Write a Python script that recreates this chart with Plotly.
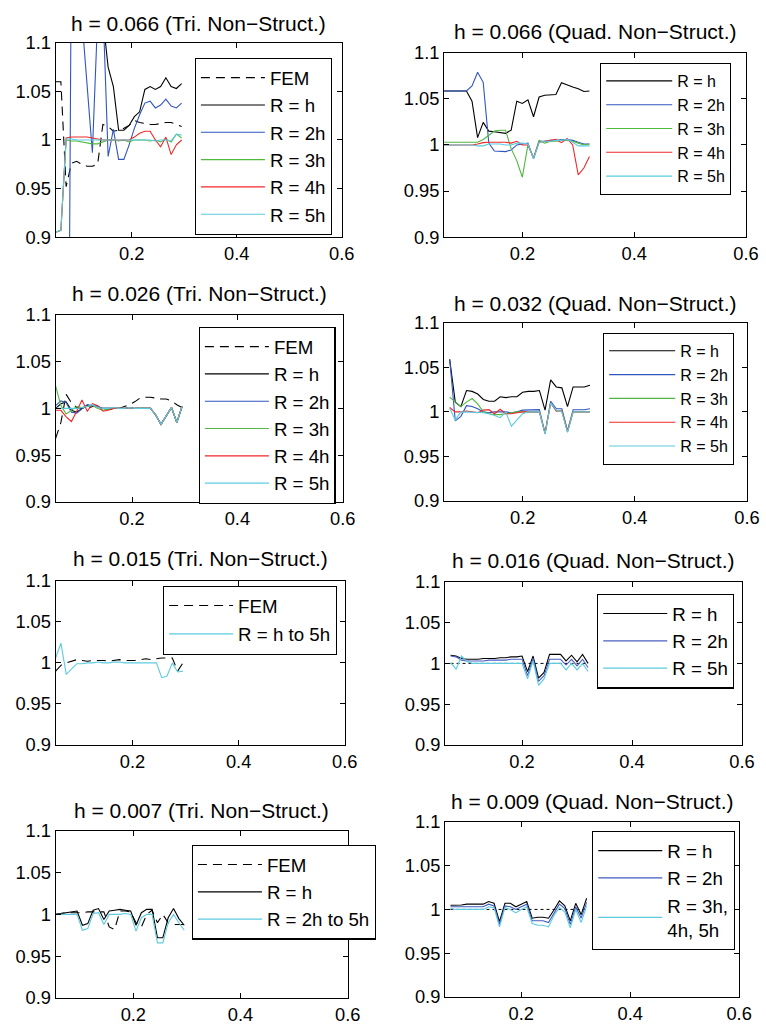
import plotly.graph_objects as go

# ---------------- data ----------------
X_TRI = [0.055, 0.065, 0.075, 0.085, 0.095, 0.105, 0.115, 0.125, 0.135, 0.145, 0.155, 0.165, 0.175,
         0.185, 0.195, 0.205, 0.215, 0.225, 0.235, 0.245, 0.255, 0.265, 0.275, 0.285, 0.295]
X_QUAD = [0.06, 0.07, 0.08, 0.09, 0.10, 0.11, 0.12, 0.13, 0.14, 0.15, 0.16, 0.17, 0.18, 0.19,
          0.20, 0.21, 0.22, 0.23, 0.24, 0.25, 0.26, 0.27, 0.28, 0.29, 0.30, 0.31, 0.32]
X_QUAD_B = [0.07, 0.08, 0.09, 0.10, 0.11, 0.12, 0.13, 0.14, 0.15, 0.16, 0.17, 0.18, 0.19,
            0.20, 0.21, 0.22, 0.23, 0.24, 0.25, 0.26, 0.27, 0.28, 0.29, 0.30, 0.31, 0.32]
REF_X = [0.07, 0.32]
REF_Y = [1.0, 1.0]

# Panel 1: h = 0.066 (Tri)
P1_FEM = [1.060, 1.060, 0.952, 0.976, 0.978, 0.975, 0.973, 0.973, 0.975, 1.016, 1.014, 1.009, 1.010,
          1.012, 1.015, 1.020, 1.018, 1.017, 1.016, 1.016, 1.017, 1.018, 1.018, 1.016, 1.014]
P1_RH = [1.2, 1.2, 1.2, 1.2, 1.2, 1.2, 1.2, 1.2, 1.15, 1.125, 1.075, 1.055, 1.010,
         1.010, 1.015, 1.024, 1.029, 1.052, 1.055, 1.052, 1.055, 1.064, 1.055, 1.053, 1.058]
P1_R2 = [0.3, 0.3, 0.3, 1.2, 1.3, 1.125, 1.056, 0.987, 1.126, 1.139, 0.983, 1.011, 0.980,
         0.980, 0.995, 1.012, 1.026, 1.038, 1.040, 1.033, 1.036, 1.042, 1.035, 1.033, 1.038]
P1_R3 = [0.905, 0.907, 1.000, 0.999, 0.999, 0.998, 0.997, 0.996, 0.996, 0.998, 1.000, 1.000, 0.999,
         1.000, 0.998, 1.000, 1.000, 1.000, 0.999, 1.000, 0.998, 1.001, 0.998, 1.006, 1.002]
P1_R4 = [0.905, 0.907, 1.002, 1.003, 1.003, 1.003, 1.003, 1.002, 1.001, 1.000, 1.000, 1.000, 1.000,
         1.000, 1.000, 1.003, 1.007, 1.009, 1.009, 1.000, 0.993, 1.003, 0.985, 0.995, 1.000]
P1_R5 = [0.905, 0.907, 1.001, 1.001, 1.000, 1.000, 1.000, 1.000, 1.000, 1.000, 1.000, 1.000, 1.000,
         1.000, 1.000, 1.000, 1.000, 1.000, 1.000, 0.999, 1.000, 1.000, 0.999, 1.006, 1.005]

# Panel 2: h = 0.066 (Quad)
P2_RH = [1.0586, 1.0586, 1.0586, 1.0586, 1.0586, 1.0475, 1.008, 1.0245, 1.015, 1.0144, 1.0137, 1.0126, 1.016,
         1.0475, 1.045, 1.049, 1.0306, 1.052, 1.054, 1.054, 1.0547, 1.0676, 1.065, 1.063, 1.061, 1.058, 1.0586]
P2_R2 = [1.0586, 1.0586, 1.0586, 1.0586, 1.0586, 1.064, 1.079, 1.068, 1.002, 0.9935, 0.9928, 0.9928, 0.9946,
         1.000, 1.001, 1.002, 0.985, 1.004, 1.004, 1.005, 1.005, 1.006, 1.006, 1.005, 1.003, 1.001, 1.001]
P2_R3 = [1.003, 1.003, 1.003, 1.003, 1.003, 1.003, 1.003, 1.006, 1.011, 1.015, 1.016, 1.016, 0.996,
         0.983, 0.965, 1.000, 0.986, 1.005, 1.002, 1.004, 1.004, 1.005, 1.005, 1.004, 1.002, 1.000, 1.001]
P2_R4 = [1.000, 1.000, 1.000, 1.000, 1.000, 1.000, 1.001, 1.0025, 1.003, 1.003, 1.003, 1.003, 1.002,
         1.004, 1.000, 1.000, 0.986, 1.003, 1.004, 1.005, 1.006, 1.0025, 1.007, 1.000, 0.9676, 0.975, 0.9874]
P2_R5 = [1.000, 1.000, 1.000, 1.000, 1.000, 1.000, 0.999, 0.999, 1.001, 1.001, 1.001, 1.000, 1.000,
         1.002, 1.002, 1.001, 0.985, 1.003, 1.004, 1.004, 1.005, 1.005, 1.006, 1.003, 0.999, 0.999, 0.999]

# Panel 3: h = 0.026 (Tri)
P3_FEM = [0.968, 0.985, 1.015, 1.006, 1.001, 1.000, 1.000, 1.002, 1.003, 1.000, 0.999, 0.999, 1.000,
          1.002, 1.004, 1.007, 1.011, 1.012, 1.012, 1.011, 1.010, 1.010, 1.008, 1.004, 1.001]
P3_RH = [1.000, 1.005, 1.007, 0.998, 0.996, 1.000, 1.003, 1.003, 1.002, 1.000, 1.000, 1.000, 1.000,
         1.000, 1.001, 1.000, 1.000, 1.000, 1.000, 0.993, 0.983, 0.992, 1.001, 0.985, 1.002]
P3_R2 = [1.003, 1.008, 1.006, 0.996, 0.995, 1.000, 1.004, 1.003, 1.002, 1.000, 1.000, 1.000, 1.000,
         1.000, 1.001, 1.000, 1.000, 1.000, 1.000, 0.993, 0.983, 0.992, 1.001, 0.985, 1.002]
P3_R3 = [1.024, 1.003, 0.994, 0.998, 1.002, 1.001, 1.002, 1.003, 1.000, 0.998, 0.999, 1.000, 1.000,
         1.000, 1.001, 1.000, 1.000, 1.000, 1.000, 0.993, 0.983, 0.992, 1.001, 0.985, 1.002]
P3_R4 = [0.998, 0.998, 0.991, 0.986, 0.997, 1.009, 0.997, 1.005, 1.003, 0.997, 0.998, 1.000, 1.000,
         1.000, 1.001, 1.000, 1.000, 1.000, 1.000, 0.993, 0.983, 0.992, 1.001, 0.985, 1.002]
P3_R5 = [1.000, 1.000, 1.000, 1.000, 1.000, 1.001, 1.002, 1.004, 1.001, 1.000, 1.000, 1.001, 1.000,
         1.000, 1.001, 1.000, 1.000, 1.000, 1.000, 0.993, 0.983, 0.992, 1.001, 0.985, 1.002]

# Panel 4: h = 0.032 (Quad)
P4_RH = [1.059, 1.011, 1.006, 1.024, 1.023, 1.020, 1.014, 1.012, 1.012, 1.017, 1.016, 1.017, 1.017,
         1.022, 1.023, 1.023, 1.024, 1.002, 1.036, 1.028, 1.027, 1.006, 1.028, 1.028, 1.028, 1.030]
P4_R2 = [1.059, 0.990, 0.995, 1.007, 1.006, 1.0035, 1.000, 0.999, 1.000, 1.000, 1.000, 0.999, 1.000,
         1.002, 1.002, 1.0025, 1.0025, 0.976, 1.012, 1.0035, 1.0035, 0.979, 1.0025, 1.0025, 1.0025, 1.0035]
P4_R3 = [1.0166, 1.011, 1.006, 1.011, 1.015, 1.009, 1.000, 0.998, 0.997, 0.997, 0.998, 0.999, 1.000,
         1.000, 1.000, 1.000, 1.000, 0.976, 1.010, 1.001, 1.001, 0.978, 1.000, 1.000, 1.000, 1.000]
P4_R4 = [1.005, 1.000, 1.000, 1.001, 1.000, 0.999, 1.002, 1.0025, 0.998, 1.003, 0.998, 0.998, 0.999,
         1.000, 1.000, 1.000, 1.000, 0.976, 1.010, 1.001, 1.001, 0.978, 1.000, 1.000, 1.000, 1.000]
P4_R5 = [1.004, 0.991, 1.000, 1.000, 1.000, 0.9995, 0.999, 0.998, 0.996, 0.9935, 1.000, 0.984, 0.991,
         0.998, 1.000, 1.000, 1.000, 0.975, 1.010, 1.002, 1.000, 0.977, 1.000, 1.000, 1.000, 1.000]

# Panel 5: h = 0.015 (Tri)
P5_FEM = [0.990, 0.997, 1.000, 1.002, 1.004, 1.003, 1.002, 1.003, 1.003, 1.003, 1.002, 1.003, 1.004,
          1.003, 1.003, 1.003, 1.004, 1.005, 1.004, 1.005, 1.006, 1.006, 1.006, 0.990, 1.000]
P5_R = [1.006, 1.024, 0.986, 0.993, 0.999, 0.999, 1.000, 1.000, 1.001, 1.000, 1.000, 1.001, 1.001,
        1.000, 1.000, 1.000, 1.000, 1.000, 1.000, 1.000, 0.982, 0.984, 1.000, 0.989, 0.990]

# Panel 6: h = 0.016 (Quad)
P6_RH = [1.010, 1.009, 1.006, 1.005, 1.005, 1.005, 1.006, 1.006, 1.006, 1.007, 1.007, 1.008, 1.008,
         1.009, 0.990, 1.009, 0.982, 0.989, 1.011, 1.011, 1.011, 1.003, 1.010, 1.002, 1.011, 1.000]
P6_R2 = [1.009, 1.008, 1.004, 1.003, 1.003, 1.003, 1.003, 1.004, 1.004, 1.004, 1.004, 1.005, 1.005,
         1.005, 0.985, 1.006, 0.978, 0.985, 1.005, 1.005, 1.005, 0.998, 1.005, 0.997, 1.005, 0.995]
P6_R5 = [1.001, 0.993, 1.009, 1.002, 1.000, 1.000, 1.000, 1.000, 1.000, 1.000, 1.000, 1.000, 1.000,
         1.000, 0.981, 1.003, 0.973, 0.981, 1.000, 1.000, 1.000, 0.992, 1.000, 0.992, 1.000, 0.990]

# Panel 7: h = 0.007 (Tri)
P7_FEM = [1.000, 1.001, 1.002, 1.002, 1.002, 1.002, 1.003, 1.003, 1.003, 1.003, 0.985, 0.982, 1.004,
          1.004, 1.003, 0.990, 0.985, 1.000, 1.005, 0.990, 1.000, 0.990, 0.988, 0.988, 0.988]
P7_RH = [1.000, 1.001, 1.002, 1.003, 1.004, 0.987, 0.989, 1.005, 1.007, 0.994, 1.004, 1.005, 1.006,
         1.005, 1.004, 0.987, 1.002, 1.006, 1.006, 0.972, 0.972, 0.996, 1.007, 0.995, 0.987]
P7_R = [1.000, 1.000, 1.000, 1.000, 1.000, 0.981, 0.983, 1.001, 1.002, 0.988, 1.000, 1.000, 1.000,
        1.001, 1.000, 0.980, 0.996, 1.000, 1.000, 0.966, 0.966, 0.990, 1.000, 0.990, 0.981]

# Panel 8: h = 0.009 (Quad)
P8_RH = [1.0047, 1.0047, 1.005, 1.006, 1.006, 1.006, 1.006, 1.009, 1.007, 0.986, 1.007, 1.007, 1.003,
         1.006, 1.009, 0.990, 0.991, 0.991, 0.990, 0.9994, 1.0097, 1.004, 0.987, 1.007, 0.994, 1.0127]
P8_R2 = [1.003, 1.003, 1.003, 1.003, 1.003, 1.003, 1.003, 1.006, 1.004, 0.983, 1.004, 1.003, 1.000,
         1.003, 1.006, 0.987, 0.987, 0.987, 0.985, 0.996, 1.006, 1.001, 0.983, 1.003, 0.990, 1.008]
P8_R3 = [1.001, 1.000, 1.000, 1.000, 1.000, 1.000, 1.000, 1.003, 1.002, 0.980, 1.002, 1.000, 0.996,
         1.000, 1.003, 0.984, 0.982, 0.982, 0.980, 0.993, 1.002, 0.997, 0.979, 1.000, 0.985, 1.004]

TITLES = ["h = 0.066 (Tri. Non\u2212Struct.)", "h = 0.066 (Quad. Non\u2212Struct.)",
          "h = 0.026 (Tri. Non\u2212Struct.)", "h = 0.032 (Quad. Non\u2212Struct.)",
          "h = 0.015 (Tri. Non\u2212Struct.)", "h = 0.016 (Quad. Non\u2212Struct.)",
          "h = 0.007 (Tri. Non\u2212Struct.)", "h = 0.009 (Quad. Non\u2212Struct.)"]
Y_TICKS = [0.9, 0.95, 1.0, 1.05, 1.1]
Y_TICKTEXT = ["0.9", "0.95", "1", "1.05", "1.1"]
X_TICKS = [0.2, 0.4, 0.6]
X_TICKTEXT = ["0.2", "0.4", "0.6"]

# ---------------- styling ----------------
W, H = 766, 1025
FONT = "Liberation Sans, Arial, Helvetica, sans-serif"
BLACK = "#000000"
BLUE = "#2f55c0"
GREEN = "#4fb83f"
RED = "#f02828"
CYAN = "#5ccbe0"

# screen-pixel -> paper-fraction mapping (calibrated on the rendered page)
def fx(px):
    return (px + 1.0) / 758.0

def fy(py):
    return 1.0 - (py - 9.0) / 1008.0

# plot boxes in target pixels: (left, right, top, bottom)
BOXES = [(55, 343, 41, 236), (446, 750, 51, 236),
         (55, 344, 314, 502), (446, 751, 322, 501),
         (55, 346, 581, 746), (447, 746, 582, 746),
         (55, 349, 832, 1000), (447, 743, 823, 999)]
TITLE_Y = [22, 30, 293, 303, 559, 561, 812, 803]
# legend: left px, top px, group gap, font size, item width
LEGEND_POS = [(195, 56, 0.0, 18.7, 64), (603, 61, 0.0, 16.0, 66),
              (199, 326, 0.0, 18.7, 64), (606, 332, 0.0, 16.0, 66),
              (163, 586, 1.0, 18.7, 64), (600, 594, 0.0, 18.7, 64),
              (192, 846, 0.0, 18.7, 64), (595, 832, 0.0, 18.7, 64)]
X_RANGES = [[0.055, 0.6], [0.06, 0.6]]

fig = go.Figure()

def add(panel, x, y, name, color, dash="solid", show=True, width=1.1):
    k = panel + 1
    fig.add_trace(go.Scatter(
        x=x, y=y, mode="lines", name=name,
        line=dict(color=color, width=width, dash=dash),
        xaxis="x" if k == 1 else f"x{k}", yaxis="y" if k == 1 else f"y{k}",
        legend="legend" if k == 1 else f"legend{k}",
        legendgroup=f"p{k}_{name}", showlegend=show,
    ))

FEM_DASH = "9px,6px"

add(0, X_TRI, P1_FEM, "FEM", BLACK, FEM_DASH)
add(0, X_TRI, P1_RH, "R = h", BLACK)
add(0, X_TRI, P1_R2, "R = 2h", BLUE)
add(0, X_TRI, P1_R3, "R = 3h", GREEN)
add(0, X_TRI, P1_R4, "R = 4h", RED)
add(0, X_TRI, P1_R5, "R = 5h", CYAN)

add(1, X_QUAD, P2_RH, "R = h", BLACK)
add(1, X_QUAD, P2_R2, "R = 2h", BLUE)
add(1, X_QUAD, P2_R3, "R = 3h", GREEN)
add(1, X_QUAD, P2_R4, "R = 4h", RED)
add(1, X_QUAD, P2_R5, "R = 5h", CYAN)

add(2, X_TRI, P3_FEM, "FEM", BLACK, FEM_DASH)
add(2, X_TRI, P3_RH, "R = h", BLACK)
add(2, X_TRI, P3_R2, "R = 2h", BLUE)
add(2, X_TRI, P3_R3, "R = 3h", GREEN)
add(2, X_TRI, P3_R4, "R = 4h", RED)
add(2, X_TRI, P3_R5, "R = 5h", CYAN)

add(3, X_QUAD_B, P4_RH, "R = h", BLACK)
add(3, X_QUAD_B, P4_R2, "R = 2h", BLUE)
add(3, X_QUAD_B, P4_R3, "R = 3h", GREEN)
add(3, X_QUAD_B, P4_R4, "R = 4h", RED)
add(3, X_QUAD_B, P4_R5, "R = 5h", CYAN)

add(4, X_TRI, P5_FEM, "FEM", BLACK, FEM_DASH)
add(4, X_TRI, P5_R, "R = h to 5h", CYAN)

add(5, REF_X, REF_Y, "ref", BLACK, "dot", show=False, width=1)
add(5, X_QUAD_B, P6_RH, "R = h", BLACK)
add(5, X_QUAD_B, P6_R2, "R = 2h", "#4a5fc0")
add(5, X_QUAD_B, P6_R5, "R = 5h", CYAN)

add(6, X_TRI, P7_FEM, "FEM", BLACK, FEM_DASH)
add(6, X_TRI, P7_RH, "R = h", BLACK)
add(6, X_TRI, P7_R, "R = 2h to 5h", CYAN)

add(7, REF_X, REF_Y, "ref", BLACK, "dot", show=False, width=1)
add(7, X_QUAD_B, P8_RH, "R = h", BLACK)
add(7, X_QUAD_B, P8_R2, "R = 2h", "#3f5cc0")
add(7, X_QUAD_B, P8_R3, "R = 3h,<br>4h, 5h", CYAN)

layout = dict(
    width=W, height=H, margin=dict(l=0, r=0, t=0, b=0), autosize=False,
    paper_bgcolor="white", plot_bgcolor="white",
    font=dict(family=FONT, size=18, color="black"),
    annotations=[],
)

for p in range(8):
    k = p + 1
    left, right, top, bottom = BOXES[p]
    xr = X_RANGES[p % 2]
    common = dict(ticks="inside", ticklen=5, tickcolor="black", showline=True,
                  linecolor="black", linewidth=1, mirror="ticks", showgrid=False,
                  zeroline=False, tickfont=dict(family=FONT, size=18.3, color="black"))
    xa = dict(domain=[fx(left), fx(right)], range=xr, anchor="y" if k == 1 else f"y{k}",
              tickvals=X_TICKS, ticktext=X_TICKTEXT, **common)
    ya = dict(domain=[fy(bottom), fy(top)], range=[0.9, 1.1],
              anchor="x" if k == 1 else f"x{k}",
              tickvals=Y_TICKS, ticktext=Y_TICKTEXT, **common)
    layout["xaxis" if k == 1 else f"xaxis{k}"] = xa
    layout["yaxis" if k == 1 else f"yaxis{k}"] = ya
    layout["annotations"].append(dict(
        text=TITLES[p], xref="paper", yref="paper",
        x=fx((left + right) / 2), y=fy(TITLE_Y[p]),
        xanchor="center", yanchor="middle", showarrow=False,
        font=dict(family=FONT, size=21, color="black")))
    lx, ly, gap, fs, iw = LEGEND_POS[p]
    layout["legend" if k == 1 else f"legend{k}"] = dict(
        x=fx(lx), y=fy(ly), xanchor="left", yanchor="top",
        xref="paper", yref="paper",
        bgcolor="white", bordercolor="black", borderwidth=1.2,
        font=dict(family=FONT, size=fs, color="black"),
        itemwidth=iw, tracegroupgap=gap, traceorder="grouped",
    )

fig.update_layout(**layout)
fig.write_html("out.html", config={"displayModeBar": False},
               post_script="document.body.style.margin='0';document.body.style.overflow='hidden';")
